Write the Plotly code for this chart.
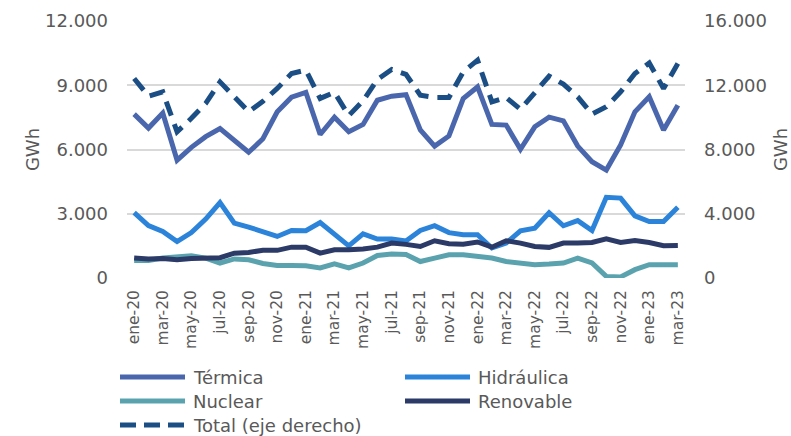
import plotly.graph_objects as go

# Monthly generation by source (GWh), ene-20 .. mar-23
months = [f"{m}-{y}" for y in ("20", "21", "22") for m in
          ("ene", "feb", "mar", "abr", "may", "jun", "jul", "ago", "sep", "oct", "nov", "dic")]
months += ["ene-23", "feb-23", "mar-23"]

termica = [7650, 7000, 7700, 5500, 6100, 6600, 6980, 6400, 5870, 6500, 7760, 8440,
           8670, 6700, 7510, 6830, 7170, 8300, 8490, 8560, 6910, 6160, 6630, 8380,
           8920, 7170, 7140, 6010, 7060, 7510, 7340, 6160, 5430, 5040, 6210, 7760,
           8460, 6910, 8070]
hidraulica = [3050, 2450, 2170, 1700, 2120, 2750, 3520, 2560, 2380, 2150, 1940, 2220,
              2210, 2590, 2020, 1500, 2060, 1820, 1820, 1730, 2220, 2440, 2120, 2020,
              2020, 1400, 1630, 2200, 2330, 3050, 2440, 2680, 2220, 3770, 3730, 2900,
              2640, 2640, 3300]
nuclear = [820, 820, 930, 1000, 1040, 930, 700, 890, 850, 680, 580, 580,
           570, 470, 660, 470, 700, 1050, 1120, 1100, 770, 930, 1080, 1080,
           1000, 930, 770, 670, 620, 650, 700, 930, 700, 75, 50, 390,
           620, 620, 620]
renovable = [930, 890, 910, 850, 910, 910, 950, 1160, 1190, 1300, 1290, 1440,
             1440, 1160, 1320, 1320, 1350, 1440, 1630, 1570, 1470, 1740, 1600, 1580,
             1680, 1440, 1740, 1630, 1470, 1430, 1630, 1630, 1660, 1830, 1660, 1750,
             1660, 1510, 1520]
total = [12420, 11320, 11590, 9100, 9940, 10870, 12210, 11320, 10350, 11000, 11800, 12730,
         12940, 11180, 11560, 10110, 11030, 12360, 12980, 12680, 11380, 11240, 11240, 12830,
         13560, 10970, 11240, 10500, 11490, 12570, 12070, 11280, 10200, 10660, 11590, 12730,
         13390, 11800, 13350]

tick_labels = months[::2]

FONT = "DejaVu Sans"
GREY = "#595959"
W, H = 791, 436
L, R, T, B = 127, 106, 21, 158

series = [
    ("Térmica", termica, "#4A66AC"),
    ("Hidráulica", hidraulica, "#2B84D9"),
    ("Nuclear", nuclear, "#5AA3AE"),
    ("Renovable", renovable, "#2B3A67"),
]
TOTAL_COLOR = "#1A4E85"

fig = go.Figure()
for name, vals, col in series:
    fig.add_trace(go.Scatter(x=months, y=vals, name=name, mode="lines",
                             line=dict(color=col, width=5), yaxis="y"))
fig.add_trace(go.Scatter(x=months, y=total, name="Total (eje derecho)", mode="lines",
                         line=dict(color=TOTAL_COLOR, width=5, dash="15px,9px"),
                         yaxis="y2"))

fig.update_layout(
    width=W, height=H,
    margin=dict(l=L, r=R, t=T, b=B, autoexpand=False),
    paper_bgcolor="white", plot_bgcolor="white",
    separators=",.",
    showlegend=False,
    font=dict(family=FONT, color=GREY, size=18),
    xaxis=dict(type="category", range=[-0.5, len(months) - 0.5],
               tickmode="array", tickvals=tick_labels, ticktext=tick_labels,
               tickangle=-90, tickfont=dict(size=15.5, color=GREY),
               showgrid=False, zeroline=False, showline=False, ticks="",
               ticklabelstandoff=8, automargin=False),
    yaxis=dict(range=[0, 12000], dtick=3000, tickformat=",d",
               showgrid=True, gridcolor="#D9D9D9", gridwidth=1.5,
               zeroline=False, showline=False, ticks="", automargin=False,
               tickfont=dict(size=18, color=GREY), ticklabelstandoff=18,
               title=dict(text="GWh", font=dict(size=18, color=GREY), standoff=0)),
    yaxis2=dict(range=[0, 16000], dtick=4000, tickformat=",d",
                overlaying="y", side="right", showgrid=False,
                zeroline=False, showline=False, ticks="", automargin=False,
                tickfont=dict(size=18, color=GREY), ticklabelstandoff=18,
                title=dict(text="GWh", font=dict(size=18, color=GREY), standoff=10)),
)

# Legend drawn below the plot: sample lines plus labels, in two columns.
# Paper coordinates are relative to the plotting area.
PW, PH = W - L - R, H - T - B


def px_x(x):
    return (x - L) / PW


def px_y(y):
    return (H - B - y) / PH


legend_items = [
    ("Térmica", series[0][2], 120, 377, False),
    ("Hidráulica", series[1][2], 405, 377, False),
    ("Nuclear", series[2][2], 120, 401, False),
    ("Renovable", series[3][2], 405, 401, False),
    ("Total (eje derecho)", TOTAL_COLOR, 120, 425, True),
]
for label, col, x0, y, dashed in legend_items:
    if dashed:
        for k in range(3):
            a = x0 + k * 24
            fig.add_shape(type="line", xref="paper", yref="paper",
                          x0=px_x(a), x1=px_x(a + 16), y0=px_y(y), y1=px_y(y),
                          line=dict(color=col, width=5))
    else:
        fig.add_shape(type="line", xref="paper", yref="paper",
                      x0=px_x(x0), x1=px_x(x0 + 65), y0=px_y(y), y1=px_y(y),
                      line=dict(color=col, width=5))
    fig.add_annotation(text=label, xref="paper", yref="paper",
                       x=px_x(x0 + 72), y=px_y(y), xanchor="left", yanchor="middle",
                       showarrow=False, borderpad=0,
                       font=dict(size=18, color=GREY, family=FONT))

fig.write_html("out.html")
